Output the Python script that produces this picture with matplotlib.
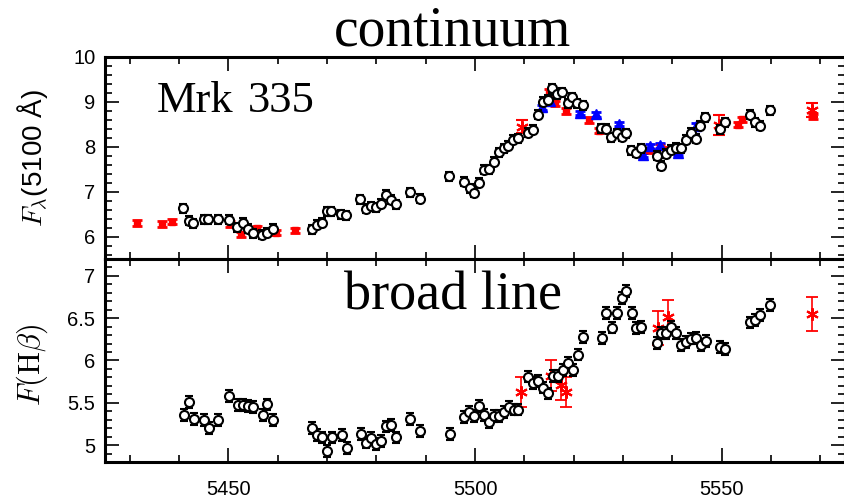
import numpy as np
import matplotlib
matplotlib.use("Agg")
import matplotlib.pyplot as plt
from matplotlib.ticker import MultipleLocator, FormatStrFormatter

plt.rcParams['font.family'] = ['Liberation Sans', 'DejaVu Sans']
plt.rcParams['mathtext.fontset'] = 'cm'

# continuum panel
cont_jd = [5440.9, 5442.0, 5442.9, 5445.0, 5445.9, 5448.0, 5450.1, 5451.8, 5452.9, 5453.9,
           5454.9, 5456.8, 5457.8, 5459.0, 5466.9, 5467.9, 5468.9, 5470.0, 5470.8, 5472.9,
           5473.9, 5476.7, 5477.9, 5478.9, 5479.9, 5480.9, 5481.9, 5482.9, 5483.9, 5486.8,
           5488.9, 5494.8, 5497.8, 5498.9, 5499.8, 5500.8, 5501.8, 5502.8, 5503.9, 5504.9,
           5505.8, 5506.7, 5507.8, 5508.8, 5510.8, 5511.8, 5512.8, 5513.8, 5514.8, 5515.7,
           5516.7, 5517.7, 5518.8, 5519.7, 5520.7, 5521.8, 5525.6, 5526.6, 5527.6, 5528.8,
           5529.7, 5530.7, 5531.7, 5532.7, 5533.7, 5536.8, 5537.8, 5538.8, 5539.8, 5540.8,
           5541.8, 5542.8, 5543.8, 5544.7, 5545.7, 5546.7, 5549.6, 5550.6, 5555.7, 5556.7,
           5557.7, 5559.7]
cont_flux = [6.63, 6.35, 6.30, 6.39, 6.39, 6.39, 6.37, 6.21, 6.31, 6.17,
             6.07, 6.04, 6.08, 6.17, 6.16, 6.26, 6.31, 6.56, 6.56, 6.50,
             6.47, 6.83, 6.62, 6.68, 6.65, 6.73, 6.93, 6.82, 6.72, 6.99,
             6.84, 7.34, 7.22, 7.08, 6.98, 7.20, 7.49, 7.50, 7.67, 7.88,
             7.97, 8.02, 8.16, 8.19, 8.31, 8.38, 8.71, 9.00, 9.05, 9.30,
             9.17, 9.22, 8.97, 9.10, 8.97, 8.92, 8.41, 8.40, 8.21, 8.30,
             8.22, 8.30, 7.92, 7.87, 7.97, 7.80, 7.58, 7.84, 7.93, 7.98,
             7.97, 8.16, 8.31, 8.18, 8.47, 8.66, 8.39, 8.55, 8.71, 8.55,
             8.47, 8.81]

red_sq_jd = [5431.5, 5436.6, 5438.6, 5450.4, 5452.6, 5455.8, 5459.7, 5463.6, 5515.0, 5516.3,
             5518.4, 5523.2, 5525.2, 5535.3, 5537.4, 5539.2, 5553.3, 5554.2, 5568.5]
red_sq_flux = [6.30, 6.28, 6.33, 6.28, 6.05, 6.18, 6.09, 6.14, 9.22, 8.97,
               8.80, 8.60, 8.36, 7.92, 8.00, 7.93, 8.49, 8.61, 8.68]

blue_jd = [5513.6, 5515.2, 5521.3, 5524.5, 5529.2, 5534.1, 5535.4, 5537.4, 5541.1, 5544.8]
blue_flux = [8.88, 9.03, 8.75, 8.72, 8.51, 7.82, 8.01, 8.03, 7.86, 8.47]

red_ast_jd = [5509.5, 5549.5, 5568.3]
red_ast_flux = [8.45, 8.49, 8.82]
red_ast_err = [0.14, 0.22, 0.15]

# broad line panel
hb_jd = [5441.0, 5442.0, 5443.0, 5445.0, 5446.0, 5448.0, 5450.1, 5451.9, 5452.9, 5453.9,
         5454.9, 5457.0, 5457.8, 5459.0, 5466.9, 5467.9, 5468.9, 5470.0, 5471.0, 5473.0,
         5474.0, 5476.9, 5477.9, 5479.0, 5479.9, 5480.9, 5481.9, 5482.9, 5483.9, 5486.8,
         5488.9, 5494.9, 5497.8, 5498.8, 5499.8, 5500.8, 5501.8, 5502.8, 5503.8, 5504.9,
         5505.9, 5506.9, 5507.9, 5508.8, 5510.8, 5511.8, 5512.8, 5513.8, 5514.8, 5515.8,
         5516.8, 5517.8, 5518.9, 5519.9, 5520.8, 5521.8, 5525.8, 5526.6, 5527.7, 5528.7,
         5529.8, 5530.7, 5531.9, 5532.7, 5533.7, 5536.8, 5537.8, 5538.8, 5539.8, 5540.8,
         5541.8, 5542.8, 5543.8, 5544.8, 5545.8, 5546.8, 5549.7, 5550.7, 5555.7, 5556.7,
         5557.7, 5559.7]
hb_flux = [5.36, 5.51, 5.31, 5.30, 5.20, 5.30, 5.58, 5.47, 5.47, 5.46,
           5.45, 5.36, 5.48, 5.30, 5.20, 5.12, 5.09, 4.93, 5.09, 5.12,
           4.97, 5.13, 5.03, 5.08, 5.01, 5.05, 5.22, 5.24, 5.09, 5.31,
           5.17, 5.13, 5.33, 5.39, 5.34, 5.46, 5.36, 5.27, 5.34, 5.34,
           5.39, 5.45, 5.42, 5.42, 5.81, 5.73, 5.76, 5.68, 5.61, 5.82,
           5.82, 5.89, 5.97, 5.89, 6.07, 6.28, 6.27, 6.56, 6.39, 6.56,
           6.74, 6.82, 6.56, 6.38, 6.40, 6.21, 6.33, 6.33, 6.40, 6.33,
           6.18, 6.22, 6.26, 6.27, 6.18, 6.23, 6.16, 6.14, 6.45, 6.48,
           6.54, 6.66]

hb_ast_jd = [5509.4, 5515.5, 5517.5, 5518.5, 5537.1, 5539.2, 5568.3]
hb_ast_flux = [5.63, 5.82, 5.71, 5.63, 6.38, 6.52, 6.55]
hb_ast_err = [0.18, 0.18, 0.18, 0.18, 0.20, 0.20, 0.20]

asterisk = (6, 2, 0)

fig = plt.figure(figsize=(8.45, 5), dpi=100)
ax1 = fig.add_axes([0.1243, 0.482, 0.8757, 0.404])
ax2 = fig.add_axes([0.1243, 0.076, 0.8757, 0.406], sharex=ax1)

# top panel
ax1.errorbar(red_sq_jd, red_sq_flux, yerr=0.06, fmt='s', ms=5, color='red',
             ecolor='red', elinewidth=2.5, capsize=3.5, capthick=2, zorder=2)
ax1.errorbar(blue_jd, blue_flux, yerr=0.05, fmt='^', ms=6.5, color='blue',
             ecolor='blue', elinewidth=1.2, capsize=3.5, capthick=2, zorder=2)
ax1.errorbar(red_ast_jd, red_ast_flux, yerr=red_ast_err, fmt='none', ecolor='red',
             elinewidth=1.2, capsize=4, capthick=1.5, zorder=2)
ax1.plot(red_ast_jd, red_ast_flux, ls='none', marker=asterisk, ms=9, mew=1.5,
         color='red', zorder=2)
ax1.errorbar(cont_jd, cont_flux, yerr=0.1, fmt='o', ms=6.5, mfc='white', mec='black',
             mew=1.5, ecolor='black', elinewidth=1.3, capsize=3, capthick=1.3, zorder=3)

# bottom panel
ax2.errorbar(hb_ast_jd, hb_ast_flux, yerr=hb_ast_err, fmt='none', ecolor='red',
             elinewidth=1.2, capsize=4, capthick=1.3, zorder=2)
ax2.plot(hb_ast_jd, hb_ast_flux, ls='none', marker=asterisk, ms=9, mew=1.5,
         color='red', zorder=2)
ax2.errorbar(hb_jd, hb_flux, yerr=0.07, fmt='o', ms=6.5, mfc='white', mec='black',
             mew=1.5, ecolor='black', elinewidth=1.3, capsize=3, capthick=1.3, zorder=3)

ax1.set_xlim(5425, 5575)
ax1.set_ylim(5.5, 10)
ax2.set_ylim(4.8, 7.2)

ax1.xaxis.set_major_locator(MultipleLocator(50))
ax1.xaxis.set_minor_locator(MultipleLocator(10))
ax1.yaxis.set_major_locator(MultipleLocator(1))
ax1.yaxis.set_minor_locator(MultipleLocator(0.2))
ax2.yaxis.set_major_locator(MultipleLocator(0.5))
ax2.yaxis.set_minor_locator(MultipleLocator(0.1))
ax2.yaxis.set_major_formatter(FormatStrFormatter('%g'))

for ax in (ax1, ax2):
    for s in ax.spines.values():
        s.set_linewidth(2.2)
    ax.tick_params(which='both', direction='in', top=True, right=True, width=1.2,
                   labelsize=14.5)
    ax.tick_params(which='major', length=10)
    ax.tick_params(which='minor', length=5)
    ax.tick_params(axis='y', pad=7)
    ax.tick_params(axis='x', pad=13)
ax1.tick_params(labelbottom=False)

ax1.set_ylabel(r'$F_\lambda$(5100 Å)', fontsize=20)
ax2.set_ylabel(r'$F(\mathrm{H}\beta)$', fontsize=22)
ax1.yaxis.set_label_coords(-0.075, 0.5)
ax2.yaxis.set_label_coords(-0.075, 0.48)

fig.text(0.535, 0.91, 'continuum', family='Liberation Serif', fontsize=40,
         ha='center', va='baseline')
fig.text(0.536, 0.38, 'broad line', family='Liberation Serif', fontsize=39,
         ha='center', va='baseline')
ax1.text(0.0703, 0.729, 'Mrk', transform=ax1.transAxes, family='Liberation Serif',
         fontsize=32, va='baseline')
ax1.text(0.193, 0.729, '335', transform=ax1.transAxes, family='Liberation Serif',
         fontsize=32, va='baseline')

plt.savefig('out.png', dpi=100)
